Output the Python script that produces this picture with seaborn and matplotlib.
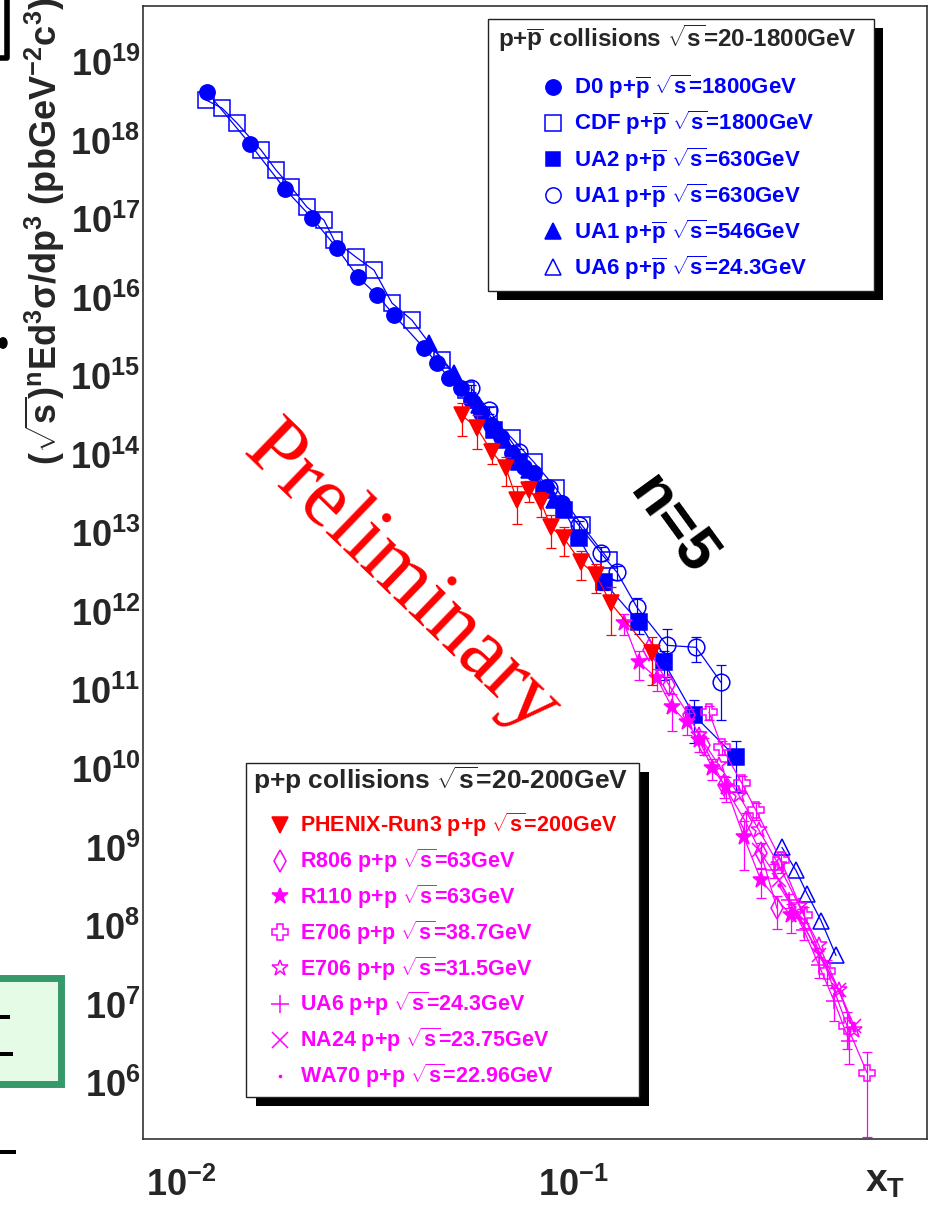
import numpy as np
import matplotlib
matplotlib.use("Agg")
import matplotlib.pyplot as plt
from matplotlib.lines import Line2D
from matplotlib.patches import Rectangle, Circle
from matplotlib.ticker import LogLocator, FuncFormatter, NullFormatter
import seaborn as sns

# x_T and (sqrt s)^n E d3sigma/dp3, one pair per data set
d0_xt = [0.01165, 0.0150, 0.01842, 0.02159, 0.0250, 0.02829, 0.03162, 0.03495, 0.04169, 0.04499, 0.04828,
         0.0518, 0.05494, 0.05826, 0.06177, 0.06551, 0.06989, 0.07499, 0.07952, 0.08532, 0.09373]
d0_y = [4.15e18, 9.02e17, 2.41e17, 1.03e17, 4.28e16, 1.82e16, 1.08e16, 5.98e15, 2.28e15, 1.47e15, 9.44e14,
        7.03e14, 4.94e14, 3.38e14, 2.38e14, 1.67e14, 1.04e14, 6.93e13, 5.81e13, 3.85e13, 2.41e13]

cdf_xt = [0.01158, 0.01272, 0.01389, 0.0160, 0.01747, 0.01908, 0.02096, 0.02316, 0.02457, 0.02795, 0.03107,
          0.03454, 0.03884, 0.04633, 0.05334, 0.06105, 0.06989, 0.07952, 0.09047, 0.1054, 0.1236]
cdf_y = [3.28e18, 2.59e18, 1.67e18, 7.57e17, 4.21e17, 2.56e17, 1.42e17, 9.70e16, 5.40e16, 3.28e16, 2.24e16,
         8.51e15, 5.16e15, 1.60e15, 6.64e14, 3.18e14, 1.62e14, 8.02e13, 3.74e13, 1.26e13, 4.53e12]

ua2_xt = [0.06287, 0.07282, 0.08433, 0.09484, 0.1036, 0.1200, 0.1473, 0.1706, 0.2036, 0.2606]
ua2_y = [2.05e14, 8.02e13, 3.53e13, 1.96e13, 8.63e12, 2.38e12, 7.35e11, 2.28e11, 4.81e10, 1.40e10]
ua2_err = [0.1, 0.1, 0.1, 0.1, 0.15, 0.2, 0.3, 0.4, 0.55, 0.64]

ua1_630_xt = [0.05494, 0.06105, 0.07282, 0.08684, 0.1036, 0.1179, 0.1295, 0.1456, 0.1737, 0.2060, 0.2386]
ua1_630_y = [7.03e14, 3.69e14, 1.08e14, 3.74e13, 1.26e13, 5.56e12, 3.18e12, 1.14e12, 3.74e11, 3.53e11, 1.26e11]
ua1_630_err = [0.1, 0.1, 0.1, 0.1, 0.15, 0.2, 0.2, 0.3, 0.6, 0.35, 0.67]

ua1_546_xt = [0.04294, 0.04972, 0.05758, 0.06668, 0.07723, 0.08942]
ua1_546_y = [2.63e15, 1.09e15, 4.28e14, 1.53e14, 6.35e13, 2.63e13]

ua6_pbar_xt = [0.3413, 0.3706, 0.3953, 0.4293, 0.4688]
ua6_pbar_y = [1.0e9, 5.09e8, 2.59e8, 1.17e8, 4.21e7]

phenix_xt = [0.05211, 0.05691, 0.06214, 0.06747, 0.07197, 0.07723, 0.08286, 0.08786, 0.09484, 0.1048,
             0.1145, 0.1250, 0.1590]
phenix_y = [3.18e14, 2.18e14, 1.08e14, 6.73e13, 2.63e13, 3.53e13, 2.48e13, 1.19e13, 8.63e12, 4.28e12,
            2.92e12, 1.28e12, 2.96e11]
phenix_err = [0.45, 0.45, 0.3, 0.4, 0.5, 0.3, 0.35, 0.45, 0.4, 0.4, 0.4, 0.6, 0.6]

r806_xt = [0.1563, 0.1758, 0.1977, 0.2159, 0.2428, 0.2763, 0.3017, 0.3315]
r806_y = [3.24e11, 1.16e11, 4.81e10, 1.99e10, 6.17e9, 2.08e9, 8.39e8, 1.67e8]
r806_err = [0.2, 0.2, 0.2, 0.25, 0.3, 0.3, 0.35, 0.45]

r110_xt = [0.1349, 0.1473, 0.1638, 0.1789, 0.1954, 0.2096, 0.2263, 0.2457, 0.2731, 0.3017, 0.3597]
r110_y = [7.14e11, 2.28e11, 1.42e11, 6.07e10, 3.91e10, 2.31e10, 1.04e10, 5.81e9, 1.34e9, 3.80e8, 1.36e8]
r110_err = [0.3, 0.4, 0.3, 0.5, 0.3, 0.3, 0.3, 0.35, 0.62, 0.4, 0.4]

e706_387_xt = [0.2224, 0.2399, 0.2698, 0.2930, 0.3393, 0.3884, 0.4446, 0.5000, 0.5623]
e706_387_y = [5.25e10, 1.88e10, 6.53e9, 2.96e9, 6.82e8, 1.36e8, 2.71e7, 5.40e6, 1.36e6]
e706_387_err = [0.2, 0.2, 0.25, 0.25, 0.3, 0.3, 0.35, 0.5, 0.85]

e706_315_xt = [0.2096, 0.2358, 0.2652, 0.2982, 0.3354, 0.3772, 0.4242, 0.4771, 0.5211]
e706_315_y = [2.67e10, 1.11e10, 4.59e9, 1.65e9, 5.90e8, 1.82e8, 5.65e7, 1.51e7, 4.67e6]

ua6_pp_xt = [0.3258, 0.3556, 0.3884, 0.4242, 0.4633, 0.5059]
ua6_pp_y = [5.09e8, 2.11e8, 8.77e7, 3.14e7, 1.12e7, 3.48e6]
ua6_pp_err = [0.2, 0.2, 0.25, 0.3, 0.45, 0.5]

na24_xt = [0.2982, 0.3354, 0.3772, 0.4242, 0.4771, 0.5211]
na24_y = [9.16e8, 3.80e8, 1.36e8, 4.21e7, 1.51e7, 5.40e6]

wa70_xt = [0.3354, 0.3772, 0.4242, 0.4771, 0.5211]
wa70_y = [3.28e8, 1.25e8, 4.59e7, 1.51e7, 4.67e6]

ppbar_labels = [r"D0 p+$\overline{\mathbf{p}}$ $\sqrt{\mathbf{s}}$=1800GeV",
                r"CDF p+$\overline{\mathbf{p}}$ $\sqrt{\mathbf{s}}$=1800GeV",
                r"UA2 p+$\overline{\mathbf{p}}$ $\sqrt{\mathbf{s}}$=630GeV",
                r"UA1 p+$\overline{\mathbf{p}}$ $\sqrt{\mathbf{s}}$=630GeV",
                r"UA1 p+$\overline{\mathbf{p}}$ $\sqrt{\mathbf{s}}$=546GeV",
                r"UA6 p+$\overline{\mathbf{p}}$ $\sqrt{\mathbf{s}}$=24.3GeV"]
pp_labels = [r"PHENIX-Run3 p+p $\sqrt{\mathbf{s}}$=200GeV",
             r"R806 p+p $\sqrt{\mathbf{s}}$=63GeV",
             r"R110 p+p $\sqrt{\mathbf{s}}$=63GeV",
             r"E706 p+p $\sqrt{\mathbf{s}}$=38.7GeV",
             r"E706 p+p $\sqrt{\mathbf{s}}$=31.5GeV",
             r"UA6 p+p $\sqrt{\mathbf{s}}$=24.3GeV",
             r"NA24 p+p $\sqrt{\mathbf{s}}$=23.75GeV",
             r"WA70 p+p $\sqrt{\mathbf{s}}$=22.96GeV"]

BLUE, RED, MAG = "#0000ff", "#ff0000", "#ff00ff"

sns.set_style("white")
plt.rcParams["font.family"] = ["Liberation Sans", "DejaVu Sans"]
plt.rcParams["font.weight"] = "bold"
plt.rcParams["axes.labelweight"] = "bold"
plt.rcParams["mathtext.fontset"] = "custom"
plt.rcParams["mathtext.rm"] = "Liberation Sans:bold"
plt.rcParams["mathtext.bf"] = "Liberation Sans:bold"
plt.rcParams["mathtext.it"] = "Liberation Sans:bold:italic"
plt.rcParams["mathtext.sf"] = "Liberation Sans:bold"
plt.rcParams["mathtext.default"] = "bf"

W, H = 930, 1214
fig = plt.figure(figsize=(W / 100, H / 100), dpi=100)
ax = fig.add_axes([143 / W, 1 - 1139 / H, (927 - 143) / W, (1139 - 6) / H])
ax.set_xscale("log")
ax.set_yscale("log")

# (x, y, rel. error, marker, filled, colour, size)
series = [
    (cdf_xt, cdf_y, None, "s", False, BLUE, 12),
    (d0_xt, d0_y, None, "o", True, BLUE, 11),
    (ua1_546_xt, ua1_546_y, None, "^", True, BLUE, 11),
    (ua2_xt, ua2_y, ua2_err, "s", True, BLUE, 11),
    (ua1_630_xt, ua1_630_y, ua1_630_err, "o", False, BLUE, 12),
    (ua6_pbar_xt, ua6_pbar_y, None, "^", False, BLUE, 12),
    (r806_xt, r806_y, r806_err, "d", False, MAG, 11),
    (r110_xt, r110_y, r110_err, "*", True, MAG, 12),
    (e706_387_xt, e706_387_y, e706_387_err, "P", False, MAG, 12),
    (e706_315_xt, e706_315_y, None, "*", False, MAG, 12),
    (ua6_pp_xt, ua6_pp_y, ua6_pp_err, "+", False, MAG, 12),
    (na24_xt, na24_y, None, "x", False, MAG, 10),
    (wa70_xt, wa70_y, None, ".", True, MAG, 4),
    (phenix_xt, phenix_y, phenix_err, "v", True, RED, 11),
]

for xt, y, err, mk, filled, col, ms in series:
    sns.lineplot(x=xt, y=y, ax=ax, color=col, lw=0.9, marker=mk, markersize=ms,
                 mfc=col if filled else "none", mec=col, mew=1.1,
                 estimator=None, sort=False, legend=False)
    if err is not None:
        ax.errorbar(xt, y, yerr=np.array(y) * np.array(err), fmt="none", ecolor=col,
                    elinewidth=0.9, capsize=3.5, capthick=0.9)

ax.set_xlim(0.008, 0.8)
ax.set_ylim(1.94e5, 5.16e19)

fmt = FuncFormatter(lambda v, p: r"$\mathbf{10^{%d}}$" % round(np.log10(v)))
ax.xaxis.set_major_locator(LogLocator(base=10, numticks=30))
ax.yaxis.set_major_locator(LogLocator(base=10, numticks=30))
ax.xaxis.set_minor_locator(LogLocator(base=10, subs=np.arange(2, 10), numticks=100))
ax.yaxis.set_minor_locator(LogLocator(base=10, subs=np.arange(2, 10), numticks=100))
ax.xaxis.set_major_formatter(fmt)
ax.yaxis.set_major_formatter(fmt)
ax.xaxis.set_minor_formatter(NullFormatter())
ax.yaxis.set_minor_formatter(NullFormatter())
ax.tick_params(axis="both", which="both", direction="in", color="#333333", width=0.8,
               top=False, right=False, labelsize=26)
ax.tick_params(axis="y", which="major", length=18, pad=2)
ax.tick_params(axis="y", which="minor", length=9.4)
ax.tick_params(axis="x", which="major", length=23, pad=21)
ax.tick_params(axis="x", which="minor", length=11.5)
for s in ax.spines.values():
    s.set_color("#333333")
    s.set_linewidth(1.2)

ax.set_ylabel(r"($\sqrt{\mathbf{s}}$)$^{\mathbf{n}}$Ed$^{\mathbf{3}}$σ/dp$^{\mathbf{3}}$ "
              r"(pbGeV$^{\mathbf{-2}}$c$^{\mathbf{3}}$)", fontsize=26, fontweight="bold", loc="top")
ax.yaxis.set_label_coords(-0.097, 1.007)
ax.set_xlabel(r"x$_{\mathbf{T}}$", fontsize=28, fontweight="bold", loc="right")
ax.xaxis.set_label_coords(0.972, -0.022)


def px_rect(x0, y0, x1, y1, **kw):
    fig.add_artist(Rectangle((x0 / W, 1 - y1 / H), (x1 - x0) / W, (y1 - y0) / H,
                             transform=fig.transFigure, **kw))


# legend frames with ROOT-like shadows
px_rect(497, 28, 883, 300, fc="black", ec="none", zorder=1.5)
px_rect(488, 19, 874, 291, fc="white", ec="#222222", lw=1, zorder=2)
px_rect(256, 772, 649, 1106, fc="black", ec="none", zorder=1.5)
px_rect(246, 763, 639, 1097, fc="white", ec="#222222", lw=1, zorder=2)

fig.text(498 / W, 1 - 38 / H, r"p+$\overline{\mathbf{p}}$ collisions $\sqrt{\mathbf{s}}$=20-1800GeV",
         ha="left", va="center", fontsize=17.5, zorder=3)
fig.text(253 / W, 1 - 780 / H, r"p+p collisions $\sqrt{\mathbf{s}}$=20-200GeV",
         ha="left", va="center", fontsize=19, zorder=3)

top_handles = [Line2D([], [], ls="none", marker=mk, ms=ms, mfc=col if filled else "none", mec=col, mew=1.1)
               for mk, filled, col, ms in [("o", True, BLUE, 11), ("s", False, BLUE, 11), ("s", True, BLUE, 10),
                                           ("o", False, BLUE, 11), ("^", True, BLUE, 11), ("^", False, BLUE, 11)]]
bot_handles = [Line2D([], [], ls="none", marker=mk, ms=ms, mfc=col if filled else "none", mec=col, mew=1.1)
               for mk, filled, col, ms in [("v", True, RED, 11), ("d", False, MAG, 11), ("*", True, MAG, 12),
                                           ("P", False, MAG, 12), ("*", False, MAG, 12), ("+", False, MAG, 13),
                                           ("x", False, MAG, 11), (".", True, MAG, 3)]]

leg_kw = dict(loc="upper left", frameon=False, borderpad=0, borderaxespad=0, handlelength=1.0,
              handletextpad=0.45, labelspacing=0.35)
lg1 = fig.legend(top_handles, ppbar_labels, bbox_to_anchor=(542 / W, 1 - 73 / H),
                 prop=dict(size=16, weight="bold"), labelcolor=[BLUE] * 6, **leg_kw)
lg1.set_zorder(5)
lg2 = fig.legend(bot_handles, pp_labels, bbox_to_anchor=(269 / W, 1 - 811 / H),
                 prop=dict(size=15.5, weight="bold"), labelcolor=[RED] + [MAG] * 7, **leg_kw)
lg2.set_zorder(5)

fig.text(401 / W, 1 - 580 / H, "Preliminary", rotation=-44, rotation_mode="anchor",
         ha="center", va="center", color="red", family="Liberation Serif", weight="normal",
         fontsize=62, zorder=3)
fig.text(672 / W, 1 - 526 / H, "n=5", rotation=-54, rotation_mode="anchor",
         ha="center", va="center", color="black", fontsize=44, zorder=3)

# bits of the neighbouring slide content cut off at the left edge
fig.add_artist(Line2D([0, 7 / W, 7 / W], [1 - 58 / H, 1 - 58 / H, 1], transform=fig.transFigure,
                      color="black", lw=4, solid_joinstyle="round"))
fig.add_artist(Circle((3 / W, 1 - 343 / H), 4 / W, transform=fig.transFigure, color="black"))
px_rect(-10, 978, 61, 1084, fc="#e6fbe6", ec="#36996b", lw=5, zorder=1)
px_rect(0, 1015, 10, 1019, fc="black", ec="none", zorder=1.2)
px_rect(0, 1052, 13, 1056, fc="black", ec="none", zorder=1.2)
px_rect(0, 1150, 16, 1154, fc="black", ec="none", zorder=1.2)

fig.savefig("out.png", dpi=100)
